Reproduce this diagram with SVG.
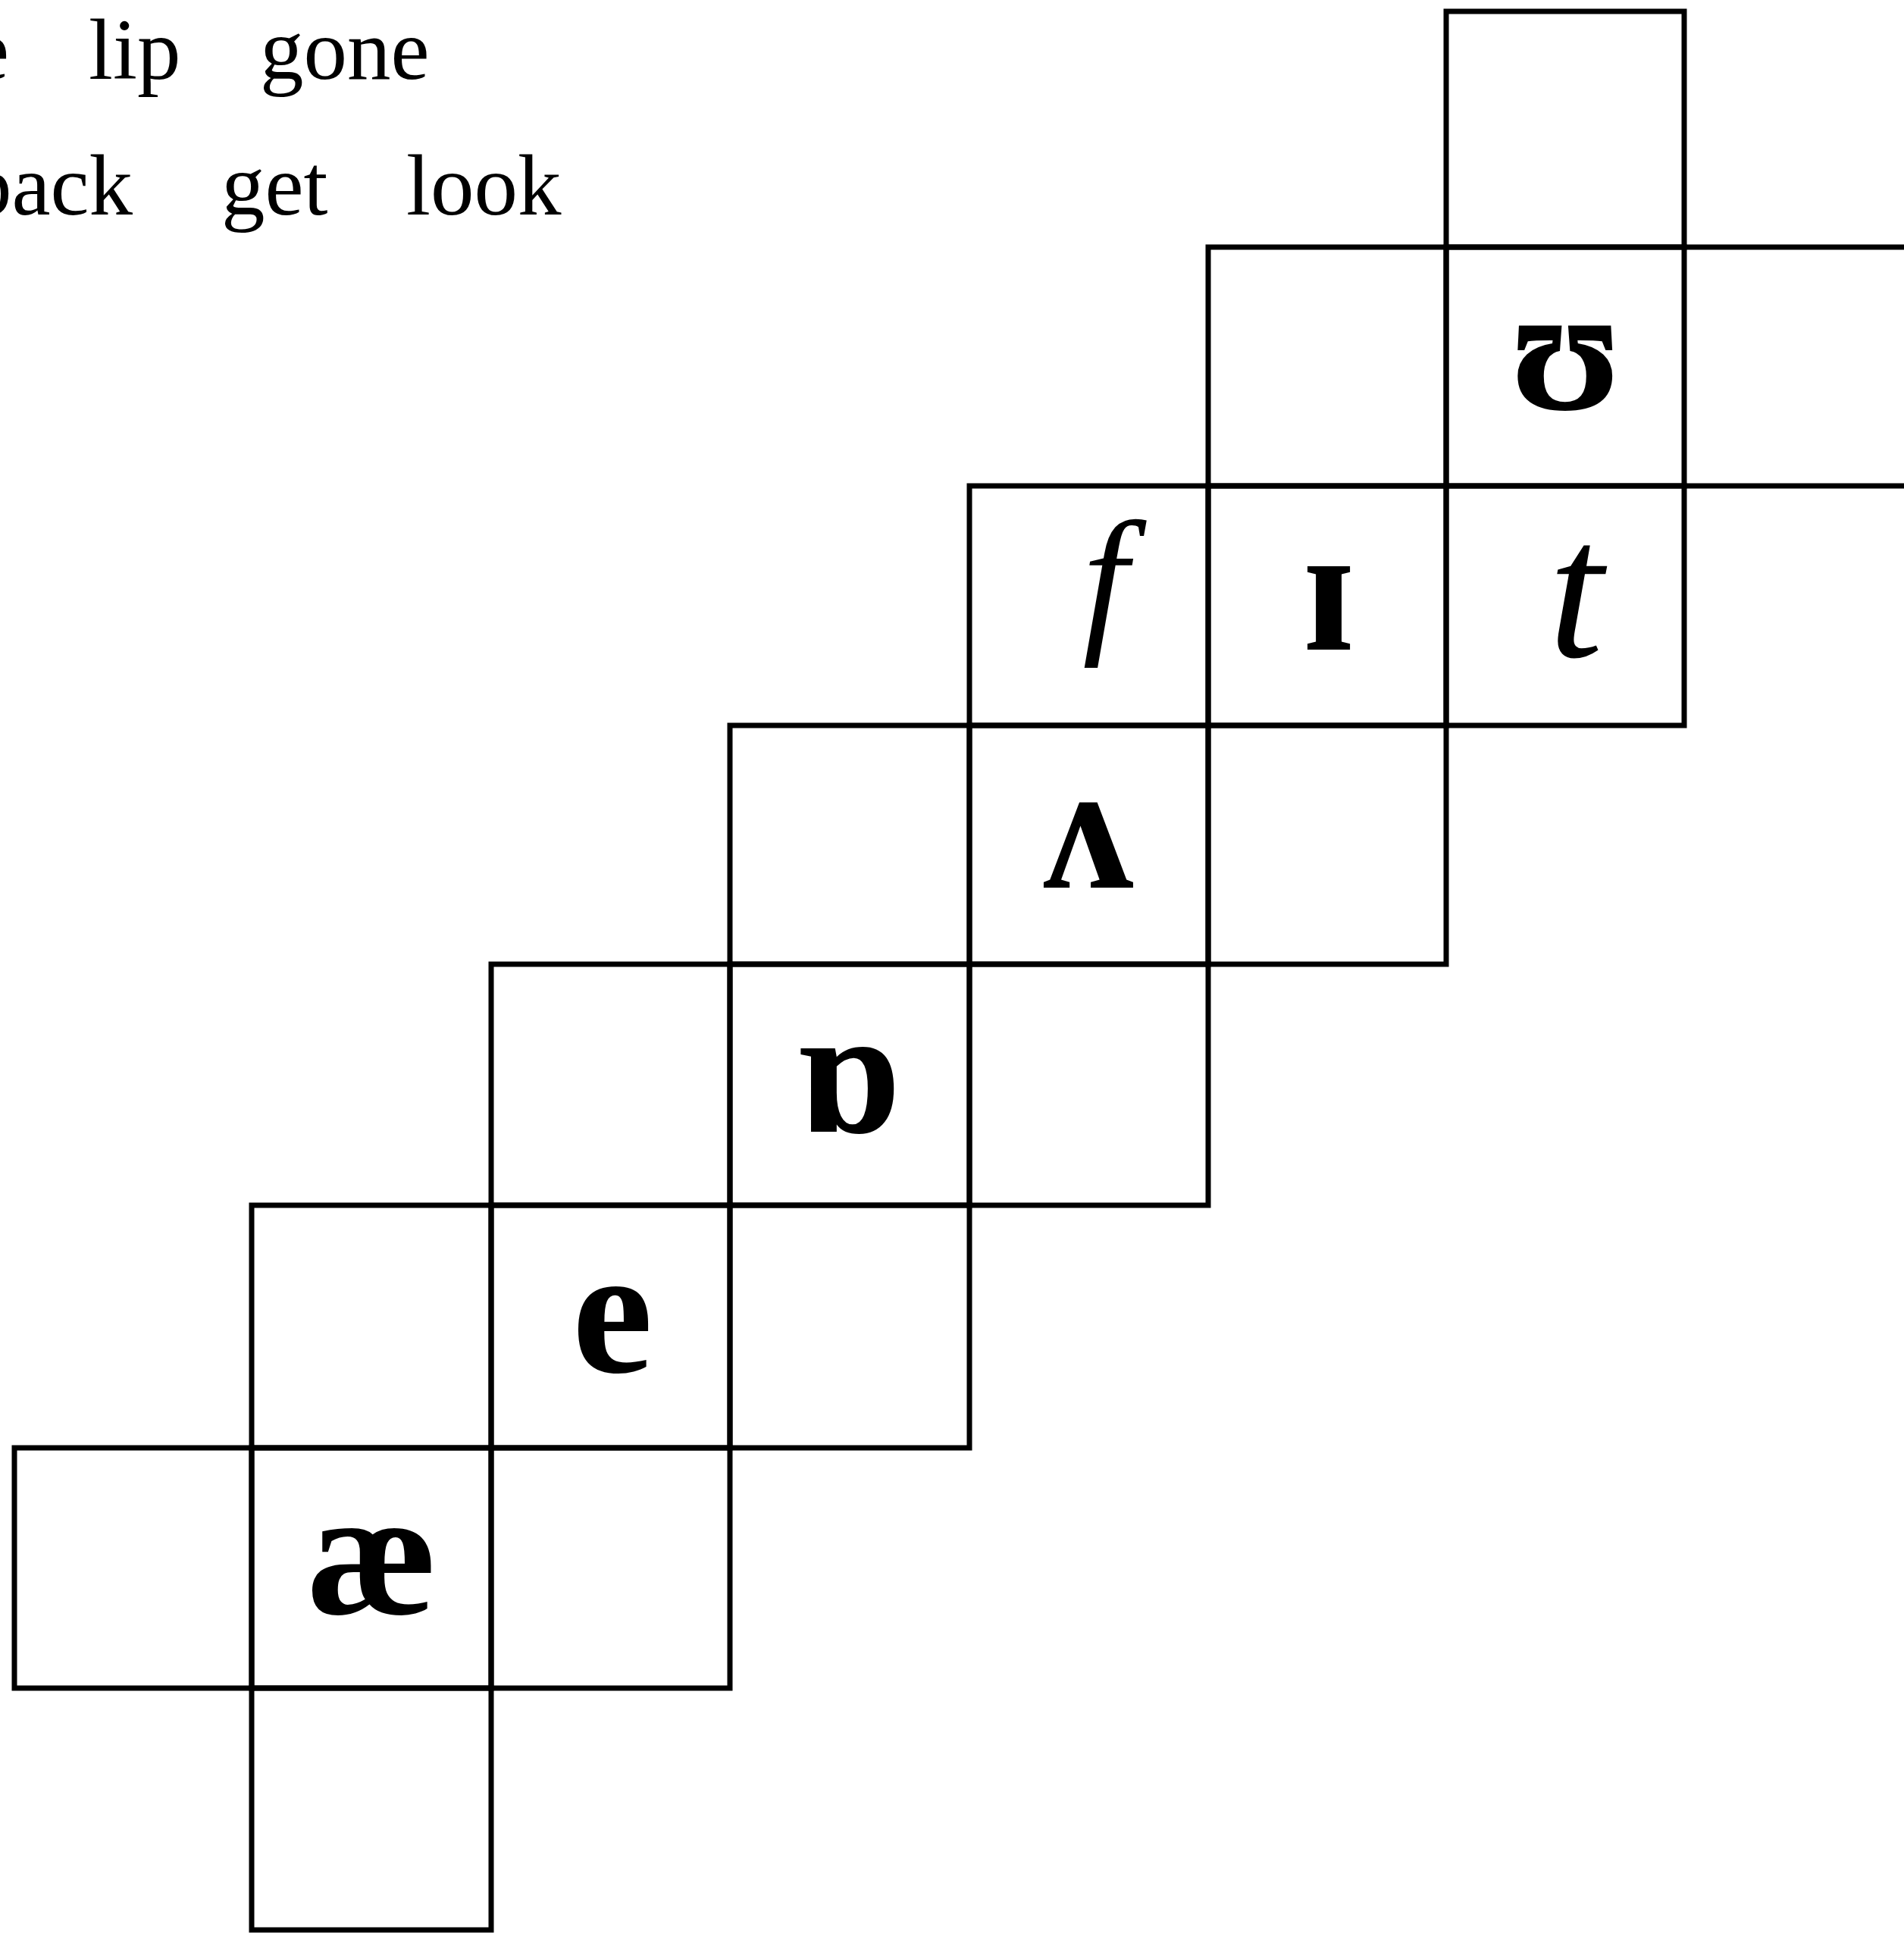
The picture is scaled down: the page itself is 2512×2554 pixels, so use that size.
<svg xmlns="http://www.w3.org/2000/svg" width="2512" height="2554" viewBox="0 0 2512 2554">
<style>
.cell{fill:none;stroke:#000;stroke-width:7}
.edge{stroke:#000;stroke-width:7;fill:none}
.word{font-family:"Liberation Serif","DejaVu Serif",serif;font-size:115px;fill:#000}
.ipa{font-family:"Liberation Serif","DejaVu Serif",serif;font-size:240px;font-weight:bold;fill:#000;text-anchor:middle}
.hand{font-family:"Liberation Serif","DejaVu Serif",serif;font-style:italic;fill:#000;text-anchor:middle}
</style>
<rect width="2512" height="2554" fill="#fff"/>
<g id="words">
<text class="word" x="12" y="104" text-anchor="end">e</text>
<text class="word" x="117" y="104">lip</text>
<text class="word" x="343" y="104">gone</text>
<text class="word" x="-42" y="283">back</text>
<text class="word" x="292" y="283">get</text>
<text class="word" x="536" y="283">look</text>
</g>
<g id="connectors">
<line class="edge" x1="2222" y1="326" x2="2512" y2="326"/>
<line class="edge" x1="2222" y1="641" x2="2512" y2="641"/>
</g>
<g id="r0c6"><rect class="cell" x="1908" y="15" width="314" height="311"/></g>
<g id="r1c5"><rect class="cell" x="1594" y="326" width="314" height="315"/></g>
<g id="r1c6"><rect class="cell" x="1908" y="326" width="314" height="315"/><text class="ipa" x="2066" y="540">ʊ</text></g>
<g id="r2c4"><rect class="cell" x="1279" y="641" width="315" height="316"/><text class="hand" x="1458" y="835" font-size="215">f</text></g>
<g id="r2c5"><rect class="cell" x="1594" y="641" width="314" height="316"/><text class="ipa" x="1753" y="857">ɪ</text></g>
<g id="r2c6"><rect class="cell" x="1908" y="641" width="314" height="316"/><text class="hand" x="2079" y="866" font-size="260">t</text></g>
<g id="r3c3"><rect class="cell" x="963" y="957" width="316" height="315"/></g>
<g id="r3c4"><rect class="cell" x="1279" y="957" width="315" height="315"/><text class="ipa" x="1436" y="1171">ʌ</text></g>
<g id="r3c5"><rect class="cell" x="1594" y="957" width="314" height="315"/></g>
<g id="r4c2"><rect class="cell" x="648" y="1272" width="315" height="318"/></g>
<g id="r4c3"><rect class="cell" x="963" y="1272" width="316" height="318"/><text class="ipa" x="1120" y="1493" font-size="225">ɒ</text></g>
<g id="r4c4"><rect class="cell" x="1279" y="1272" width="315" height="318"/></g>
<g id="r5c1"><rect class="cell" x="332" y="1590" width="316" height="320"/></g>
<g id="r5c2"><rect class="cell" x="648" y="1590" width="315" height="320"/><text class="ipa" x="808" y="1810">e</text></g>
<g id="r5c3"><rect class="cell" x="963" y="1590" width="316" height="320"/></g>
<g id="r6c0"><rect class="cell" x="19" y="1910" width="313" height="317"/></g>
<g id="r6c1"><rect class="cell" x="332" y="1910" width="316" height="317"/><text class="ipa" x="491" y="2129">æ</text></g>
<g id="r6c2"><rect class="cell" x="648" y="1910" width="315" height="317"/></g>
<g id="r7c1"><rect class="cell" x="332" y="2227" width="316" height="319"/></g>
</svg>
